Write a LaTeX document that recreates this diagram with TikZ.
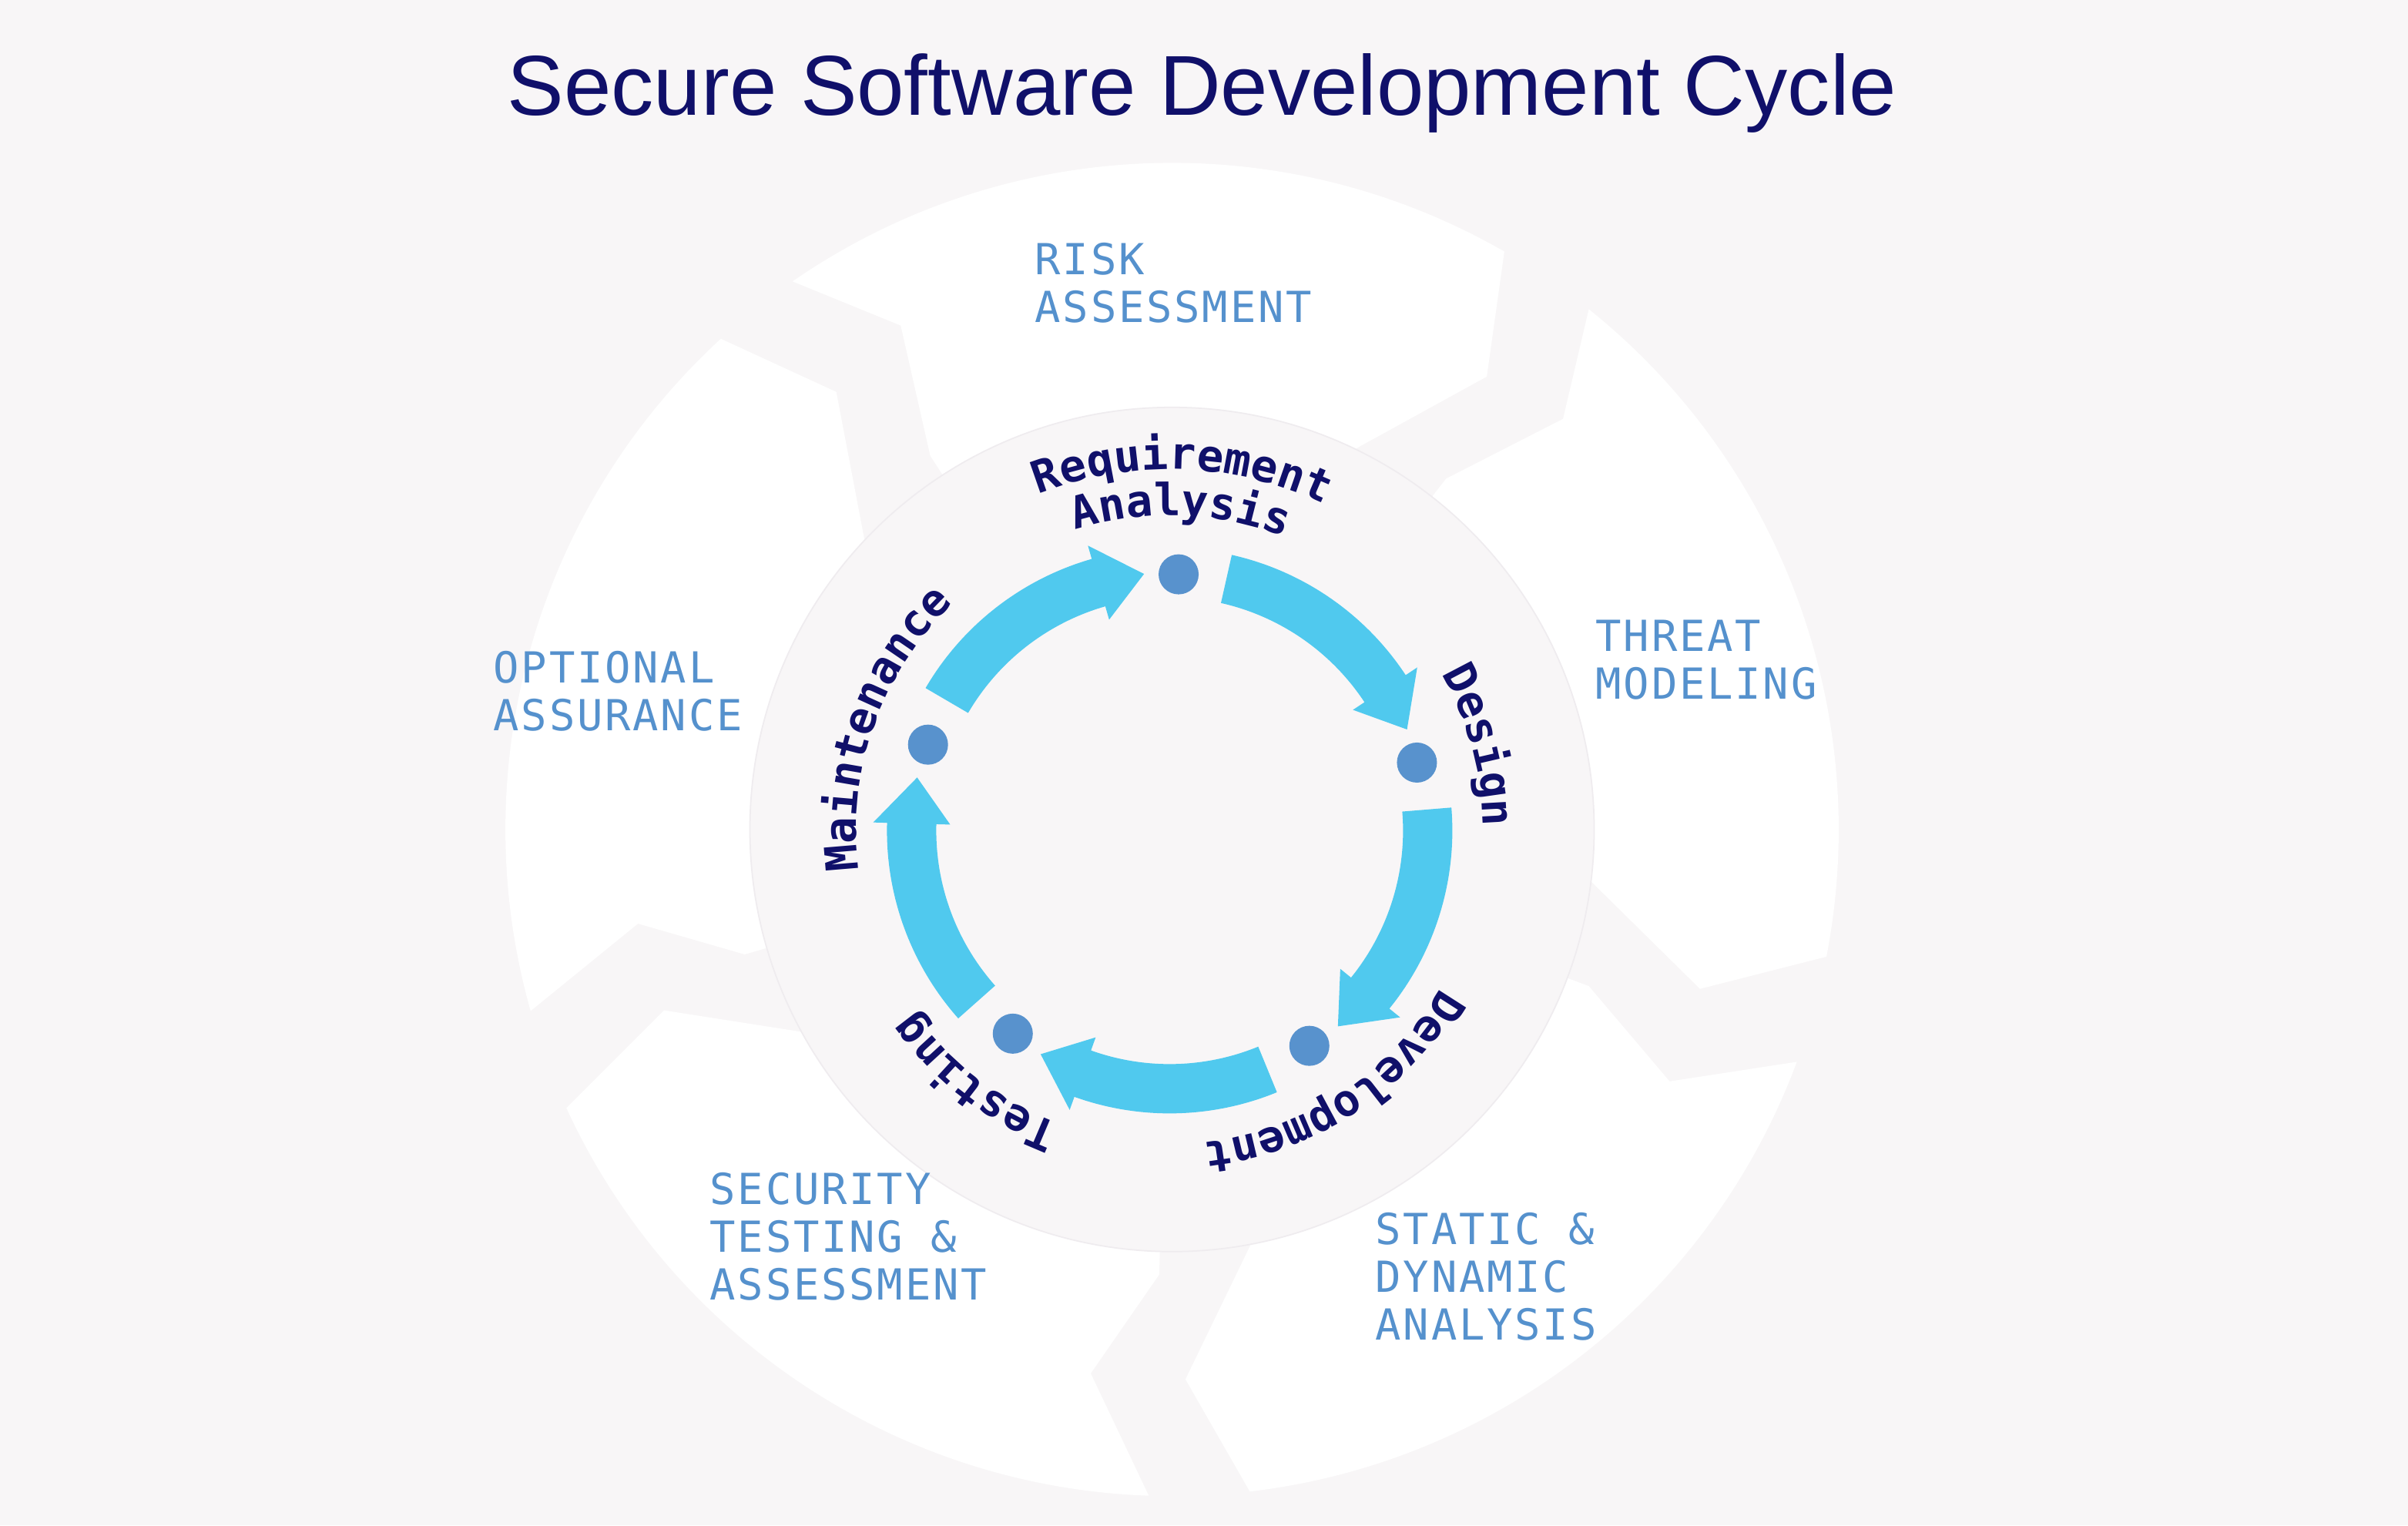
\documentclass[tikz,border=0pt]{standalone}
\usepackage{fontspec}
\setmainfont{Liberation Sans}
\newfontfamily\monolabel{DejaVu Sans Mono Bold}
\newfontfamily\monowide[LetterSpace=5]{DejaVu Sans Mono}
\usetikzlibrary{decorations.text}

\definecolor{bgc}{HTML}{F8F6F7}
\definecolor{navy}{HTML}{10106A}
\definecolor{steel}{HTML}{5591CD}
\definecolor{sky}{HTML}{50C9EE}
\definecolor{dotc}{HTML}{5892CD}
\definecolor{diskline}{HTML}{EFECEF}

\newcommand\arclabel{\monolabel\fontsize{16.4}{18}\selectfont\color{navy}}

\tikzset{
  segment/.style={fill=white},
  innerdisk/.style={fill=bgc, draw=diskline, line width=0.5pt},
  flow/.style={fill=sky},
  stage/.style={fill=dotc},
  phaselabel/.style={anchor=base west, inner sep=0pt, text=steel,
    font=\monowide\fontsize{15.8}{17.6}\selectfont},
  titlestyle/.style={anchor=base, inner sep=0pt, text=navy,
    font=\fontsize{31.4}{36}\selectfont},
  arctext/.style={decorate, decoration={text along path, text align=center, text={|\arclabel|#1}}}
}

\begin{document}
\begin{tikzpicture}
\useasboundingbox[fill=bgc] (0,0) rectangle (31.26,19.8);

% title
\node[titlestyle] (title) at (15.605,18.30) {Secure Software Development Cycle};

% outer ring of five chevron segments:
% start / end of the outer arc, notch angle / radius, inner start angle, tip angle / radius
\begin{scope}[shift={(15.215,9.032)}]
  \foreach \s/\e/\n/\nr/\i/\t/\tr in {
      124.7/60.1/118.3/7.43/122.9/55.2/7.16,
      51.3/-11.0/46.4/7.36/52.0/-16.8/7.16,
      -20.4/-83.3/-26.85/7.24/-20.6/-88.6/7.14,
      -92/-155.3/-98.5/7.14/-91.65/-160.4/7.0,
      -164.2/-227.4/-170/7.04/-163.7/-232.5/7.16}{
    \fill[segment] (\s:8.654) arc[start angle=\s, end angle=\e, radius=8.654]
      -- (\t:\tr) -- ({\e+7.5}:5.08)
      arc[start angle=\e+7.5, end angle=\i, radius=5.08]
      -- (\i:5.78) -- (\n:\nr) -- cycle;
  }
  \filldraw[innerdisk] (0,0) circle (5.48);
\end{scope}

% inner cycle: arrows, stage dots and curved stage names
\begin{scope}[shift={(15.184,9.016)}]
  \foreach \a/\b in {88/15.4, 15.4/-57, -57/-127.7, -127.7/-199.6, 160.4/88}{
    \fill[flow] ({\a-10.7}:3.67) arc[start angle=\a-10.7, end angle=\b+18, radius=3.67]
      -- ({\b+18}:3.85) -- ({\b+7.7}:3.35) -- ({\b+18}:2.85) -- ({\b+18}:3.03)
      arc[start angle=\b+18, end angle=\a-10.7, radius=3.03] -- cycle;
  }
  \foreach \a in {88,15.4,-57,-127.7,160.4}
    \fill[stage] (\a:3.33) circle (0.26);

  \path[arctext=Requirement] (148:4.69) arc[start angle=148, end angle=28, radius=4.69];
  \path[arctext=Analysis] (148:4.09) arc[start angle=148, end angle=28, radius=4.09];
  \path[arctext=Design] (75.4:4.07) arc[start angle=75.4, end angle=-44.6, radius=4.07];
  \path[arctext=Development] (3:4.07) arc[start angle=3, end angle=-117, radius=4.07];
  \path[arctext=Testing] (-67.7:4.07) arc[start angle=-67.7, end angle=-187.7, radius=4.07];
  \path[arctext=Maintenance] (220.4:4.07) arc[start angle=220.4, end angle=100.4, radius=4.07];
\end{scope}

% practice labels in the ring
\node[phaselabel] (risk) at (13.43,16.23)
  {\begin{tabular}[t]{@{}l@{}}RISK\\ASSESSMENT\end{tabular}};
\node[phaselabel] (threat) at (20.71,11.34)
  {\begin{tabular}[t]{@{}l@{}}THREAT\\MODELING\end{tabular}};
\node[phaselabel] (static) at (17.85,3.646)
  {\begin{tabular}[t]{@{}l@{}}STATIC \&\\DYNAMIC\\ANALYSIS\end{tabular}};
\node[phaselabel] (sectest) at (9.21,4.1625)
  {\begin{tabular}[t]{@{}l@{}}SECURITY\\TESTING \&\\ASSESSMENT\end{tabular}};
\node[phaselabel] (optional) at (6.40,10.933)
  {\begin{tabular}[t]{@{}l@{}}OPTIONAL\\ASSURANCE\end{tabular}};
\end{tikzpicture}
\end{document}
